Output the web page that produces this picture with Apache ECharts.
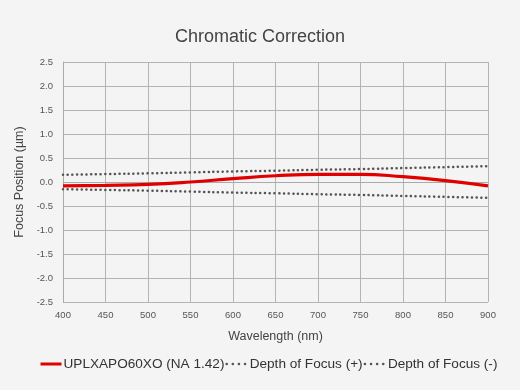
<!DOCTYPE html>
<html><head><meta charset="utf-8">
<script src="https://cdn.jsdelivr.net/npm/echarts@6/dist/echarts.min.js"></script>
<style>html,body{margin:0;padding:0;background:#f4f4f4}#c{width:520px;height:390px}</style>
</head><body><div id="c"></div>
<script>
const wavelengths = [400,450,500,550,600,650,700,750,800,850,900];
const focusShift = [-0.08,-0.07,-0.05,0.0,0.07,0.13,0.16,0.16,0.11,0.03,-0.08];
const dofPlus = [0.15,0.165,0.18,0.20,0.22,0.235,0.255,0.27,0.29,0.31,0.33];
const dofMinus = [-0.15,-0.165,-0.18,-0.20,-0.22,-0.235,-0.255,-0.27,-0.29,-0.31,-0.33];
const seriesNames = ['UPLXAPO60XO (NA 1.42)','Depth of Focus (+)','Depth of Focus (-)'];

const font = 'Liberation Sans, Arial, Helvetica, sans-serif';
const pair = a => wavelengths.map((w,i)=>[w,a[i]]);
const dotted = {color:'#555',width:2.5,type:[0.1,4.6],cap:'round'};
const legendDots = {width:2.5,type:[0.1,6],cap:'round'};
const chart = echarts.init(document.getElementById('c'));
chart.setOption({
  backgroundColor:'#f4f4f4',
  animation:false,
  title:{text:'Chromatic Correction',left:'center',top:23,textStyle:{fontFamily:font,fontSize:18,fontWeight:'normal',color:'#444'}},
  grid:{left:63,right:32,top:62,bottom:88},
  legend:{bottom:14,left:34,itemWidth:21,itemHeight:10,itemGap:1,
    itemStyle:{opacity:0},lineStyle:{width:3},
    textStyle:{fontFamily:font,fontSize:13.6,color:'#333',padding:[0,0,0,-3]},
    data:[{name:seriesNames[0]},{name:seriesNames[1],lineStyle:legendDots},{name:seriesNames[2],lineStyle:legendDots}]},
  xAxis:{type:'value',min:400,max:900,interval:50,name:'Wavelength (nm)',nameLocation:'middle',nameGap:28,
    nameTextStyle:{fontFamily:font,fontSize:12.5,color:'#444'},
    axisLine:{show:true,lineStyle:{color:'#aaa'}},axisTick:{show:false},
    axisLabel:{fontFamily:font,fontSize:9.5,color:'#555',margin:8},
    splitLine:{show:true,lineStyle:{color:'#b4b4b4',width:1}}},
  yAxis:{type:'value',min:-2.5,max:2.5,interval:0.5,name:'Focus Position (µm)',nameLocation:'middle',nameGap:36,
    nameTextStyle:{fontFamily:font,fontSize:12.5,color:'#444'},
    axisLine:{show:true,lineStyle:{color:'#aaa'}},axisTick:{show:false},
    axisLabel:{fontFamily:font,fontSize:9.5,color:'#555',margin:10,formatter:v=>v.toFixed(1)},
    splitLine:{show:true,lineStyle:{color:'#b4b4b4',width:1}}},
  series:[
    {name:seriesNames[0],type:'line',smooth:true,symbol:'none',data:pair(focusShift),
      lineStyle:{color:'#e00000',width:3.2},itemStyle:{color:'#e00000'},z:3},
    {name:seriesNames[1],type:'line',smooth:true,symbol:'none',data:pair(dofPlus),
      lineStyle:dotted,itemStyle:{color:'#555'}},
    {name:seriesNames[2],type:'line',smooth:true,symbol:'none',data:pair(dofMinus),
      lineStyle:dotted,itemStyle:{color:'#555'}}
  ]
});
</script></body></html>
